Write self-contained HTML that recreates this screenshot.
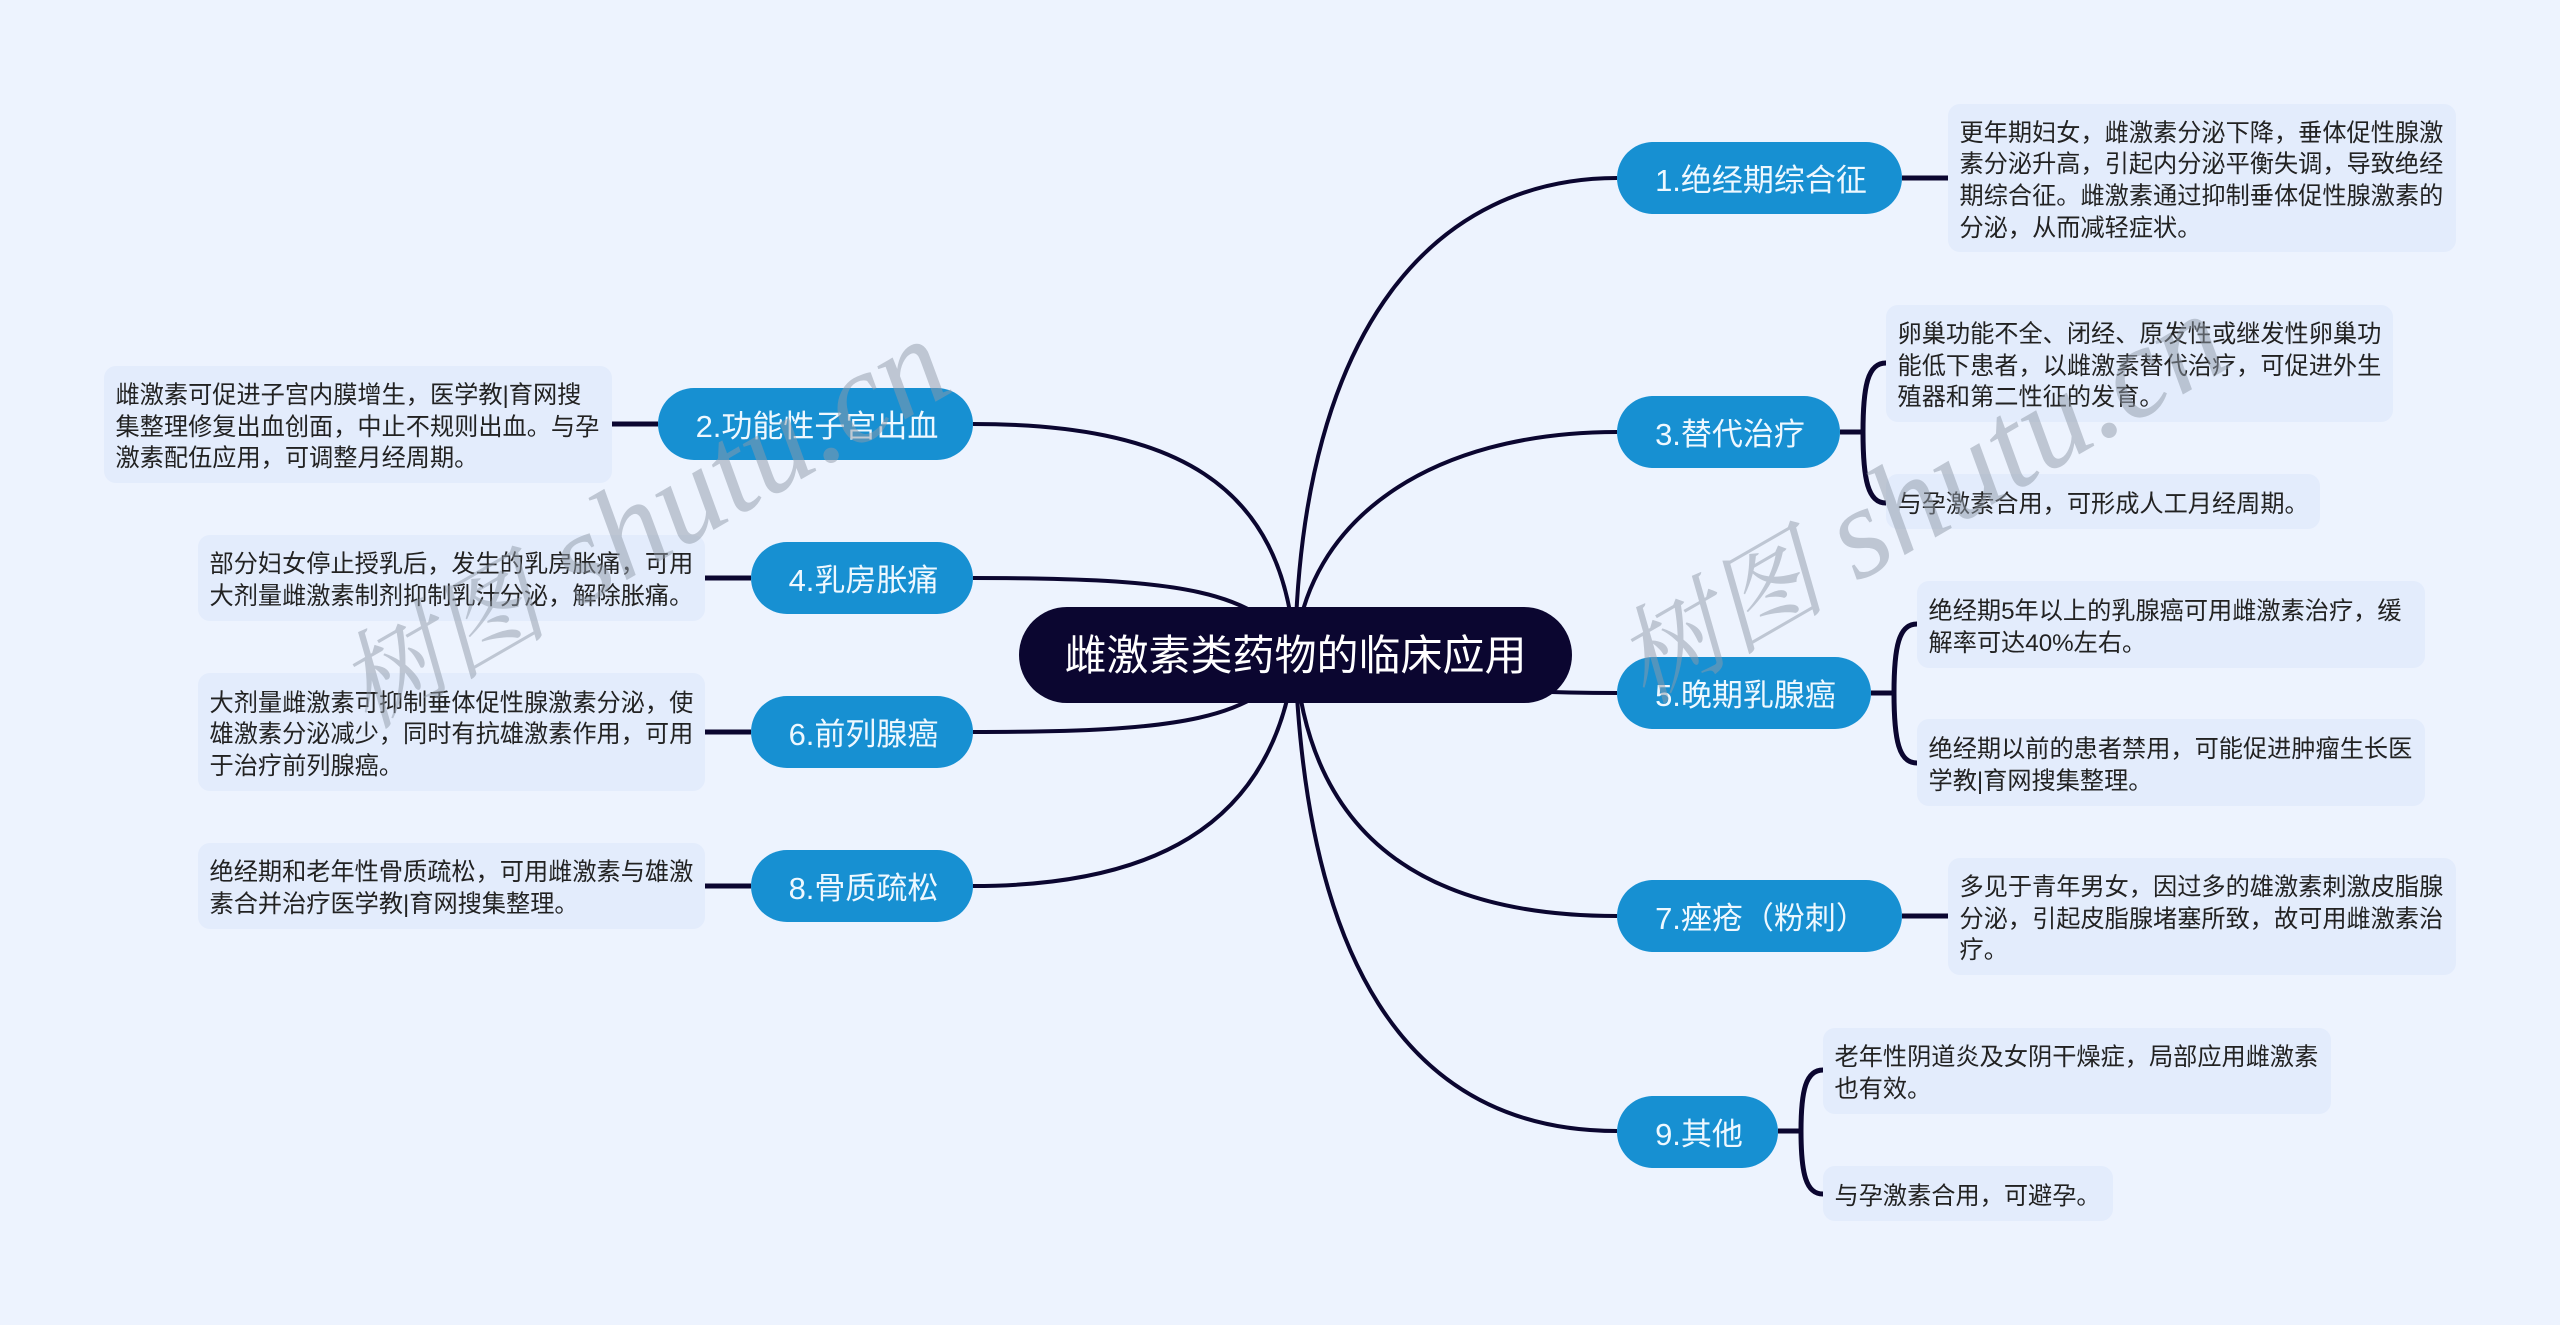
<!DOCTYPE html>
<html lang="zh"><head><meta charset="utf-8"><title>雌激素类药物的临床应用</title>
<style>
html,body{margin:0;padding:0;background:#edf3fe}
#c{position:relative;width:2560px;height:1325px;overflow:hidden;background:#edf3fe;font-family:"Liberation Sans","Noto Sans CJK SC",sans-serif}
svg{position:absolute;left:0;top:0}
.n,.l,.r{position:absolute;box-sizing:border-box;white-space:nowrap}
.r{left:1019px;top:607px;width:553px;height:96px;border-radius:48px;background:#0b0630;color:#fff;font-size:42px;line-height:98px;text-align:center}
.n{height:72px;border-radius:36px;background:#1790d2;color:#eef8ff;font-size:31px;line-height:77px;text-align:center;padding-left:3px}
.l{border-radius:12px;background:#e3ecfc;color:#222;font-size:24.2px;line-height:31.6px;padding:6px 0 0 11.5px;display:flex;align-items:center}
</style></head><body><div id="c">
<svg width="2560" height="1325" fill="none" stroke="#0b0630" stroke-width="4">
<path d="M1295 655C1300 320 1440 178 1617 178"/>
<path d="M1295 655C1305 520 1430 432 1617 432"/>
<path d="M1295 655C1350 680 1480 693 1617 693"/>
<path d="M1295 655C1310 850 1440 916 1617 916"/>
<path d="M1295 655C1305 950 1400 1131 1617 1131"/>
<path d="M973 424C1170 424 1285 480 1295 655"/>
<path d="M973 578C1180 578 1260 590 1295 655"/>
<path d="M973 732C1180 732 1260 720 1295 655"/>
<path d="M973 886C1140 886 1275 835 1295 655"/>
<g stroke-width="5">
<path d="M1902 178H1948M1840 432H1863M1871 693H1894M1902 916H1948M1778 1131H1801"/>
<path d="M612 424H658M705 578H751M705 732H751M705 886H751"/>
<path d="M1886 363C1868 363 1863 385 1863 432C1863 480 1868 503 1886 503"/>
<path d="M1917 624C1899 624 1894 646 1894 693C1894 741 1899 763 1917 763"/>
<path d="M1823 1070C1806 1070 1801 1090 1801 1131C1801 1174 1806 1194 1823 1194"/>
</g>
</svg>
<div class="r">雌激素类药物的临床应用</div>
<div class="n" style="left:1617px;top:142px;width:285px">1.绝经期综合征</div>
<div class="n" style="left:1617px;top:396px;width:223px">3.替代治疗</div>
<div class="n" style="left:1617px;top:657px;width:254px">5.晚期乳腺癌</div>
<div class="n" style="left:1617px;top:880px;width:285px">7.痤疮（粉刺）</div>
<div class="n" style="left:1617px;top:1096px;width:161px">9.其他</div>
<div class="n" style="left:658px;top:388px;width:315px">2.功能性子宫出血</div>
<div class="n" style="left:751px;top:542px;width:222px">4.乳房胀痛</div>
<div class="n" style="left:751px;top:696px;width:222px">6.前列腺癌</div>
<div class="n" style="left:751px;top:850px;width:222px">8.骨质疏松</div>
<div class="l" style="left:1948px;top:104px;width:508px;height:148px"><span>更年期妇女，雌激素分泌下降，垂体促性腺激<br>素分泌升高，引起内分泌平衡失调，导致绝经<br>期综合征。雌激素通过抑制垂体促性腺激素的<br>分泌，从而减轻症状。</span></div>
<div class="l" style="left:1886px;top:305px;width:507px;height:117px"><span>卵巢功能不全、闭经、原发性或继发性卵巢功<br>能低下患者，以雌激素替代治疗，可促进外生<br>殖器和第二性征的发育。</span></div>
<div class="l" style="left:1886px;top:474px;width:434px;height:55px"><span>与孕激素合用，可形成人工月经周期。</span></div>
<div class="l" style="left:1917px;top:581px;width:508px;height:87px"><span>绝经期5年以上的乳腺癌可用雌激素治疗，缓<br>解率可达40%左右。</span></div>
<div class="l" style="left:1917px;top:719px;width:508px;height:87px"><span>绝经期以前的患者禁用，可能促进肿瘤生长医<br>学教|育网搜集整理。</span></div>
<div class="l" style="left:1948px;top:858px;width:508px;height:117px"><span>多见于青年男女，因过多的雄激素刺激皮脂腺<br>分泌，引起皮脂腺堵塞所致，故可用雌激素治<br>疗。</span></div>
<div class="l" style="left:1823px;top:1028px;width:508px;height:86px"><span>老年性阴道炎及女阴干燥症，局部应用雌激素<br>也有效。</span></div>
<div class="l" style="left:1823px;top:1166px;width:290px;height:55px"><span>与孕激素合用，可避孕。</span></div>
<div class="l" style="left:104px;top:366px;width:508px;height:117px"><span>雌激素可促进子宫内膜增生，医学教|育网搜<br>集整理修复出血创面，中止不规则出血。与孕<br>激素配伍应用，可调整月经周期。</span></div>
<div class="l" style="left:198px;top:535px;width:507px;height:86px"><span>部分妇女停止授乳后，发生的乳房胀痛，可用<br>大剂量雌激素制剂抑制乳汁分泌，解除胀痛。</span></div>
<div class="l" style="left:198px;top:673px;width:507px;height:118px"><span>大剂量雌激素可抑制垂体促性腺激素分泌，使<br>雄激素分泌减少，同时有抗雄激素作用，可用<br>于治疗前列腺癌。</span></div>
<div class="l" style="left:198px;top:843px;width:507px;height:86px"><span>绝经期和老年性骨质疏松，可用雌激素与雄激<br>素合并治疗医学教|育网搜集整理。</span></div>
<svg width="2560" height="1325" fill="#8f99a8" fill-opacity=".5" font-family="'Liberation Serif','Noto Serif CJK SC',serif" font-size="130" font-style="italic">
<text transform="translate(367 730) rotate(-30)"><tspan font-size="106">树图</tspan> shutu.cn</text>
<text transform="translate(1645 705) rotate(-30)"><tspan font-size="106">树图</tspan> shutu.cn</text>
</svg>
</div></body></html>
